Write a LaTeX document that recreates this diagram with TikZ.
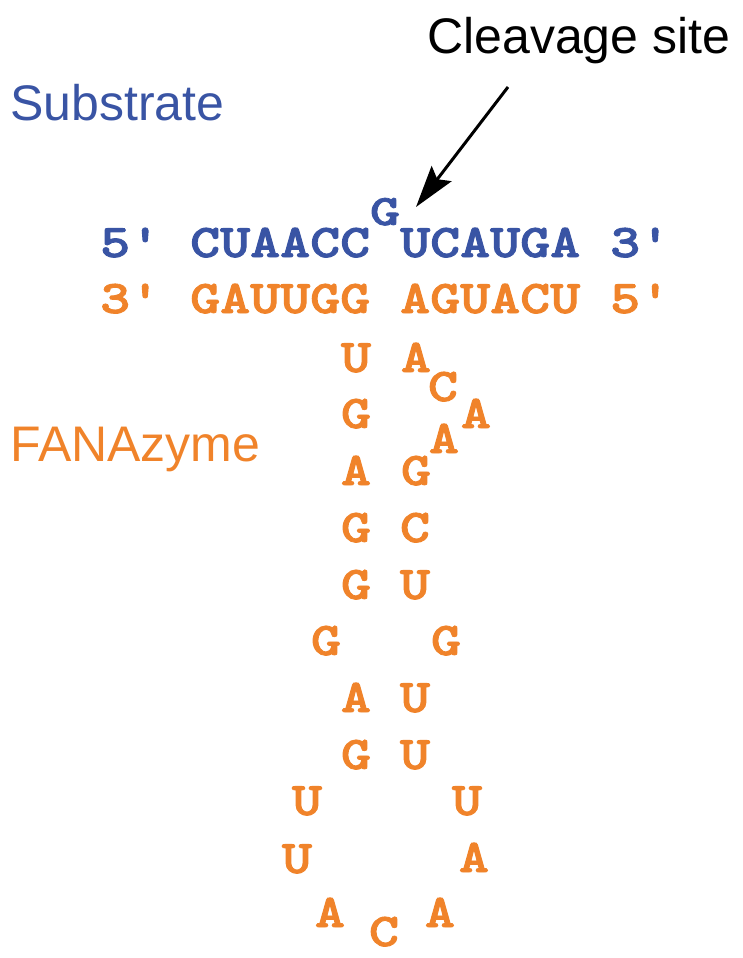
\documentclass[tikz,border=0pt]{standalone}
\usepackage{fontspec}
\usepackage{graphicx}
\usetikzlibrary{arrows.meta}
\newfontfamily\labelfont{Liberation Sans}
\newfontfamily\seqfont{lmmonolt10-bold.otf}[Ligatures=TeXOff, FakeBold=1.8]
\definecolor{sblue}{RGB}{57,84,164}
\definecolor{forange}{RGB}{240,131,42}
\newcommand{\nuc}[1]{\scalebox{1}[0.82]{#1}}
\begin{document}
\begin{tikzpicture}[x=1pt,y=-1pt,
  seqtxt/.style={inner sep=0pt, anchor=base west, font=\seqfont\fontsize{57.14}{60}\selectfont},
  ntd/.style={inner sep=0pt, anchor=base, text=forange, font=\seqfont\fontsize{57.14}{60}\selectfont},
  lab/.style={inner sep=0pt, anchor=base west, font=\labelfont\fontsize{50}{55}\selectfont},
  arrowline/.style={line width=3pt, -{Stealth[length=42pt,width=25pt,inset=7pt]}}]
\useasboundingbox (0,0) rectangle (742,958);
% labels
\node[lab, text=black] (cleave) at (427,53) {Cleavage site};
\node[lab, text=sblue] (substrate) at (10,120) {Substrate};
\node[lab, text=forange] (fanazyme) at (10,461) {FANAzyme};
% substrate row
\node[seqtxt, text=sblue] (sfive) at (100,257) {\nuc{5'}};
\node[seqtxt, text=sblue] (sleft) at (190,257) {\nuc{CUAACC}};
\node[inner sep=0pt, anchor=base, text=sblue, font=\seqfont\fontsize{57.14}{60}\selectfont] (sg) at (385,225) {\scalebox{1}[0.76]{G}};
\node[seqtxt, text=sblue] (sright) at (400,257) {\nuc{UCAUGA}};
\node[seqtxt, text=sblue] (sthree) at (610,257) {\nuc{3'}};
% enzyme row
\node[seqtxt, text=forange] (ethree) at (100,313) {\nuc{3'}};
\node[seqtxt, text=forange] (eleft) at (190,313) {\nuc{GAUUGG}};
\node[seqtxt, text=forange] (eright) at (400,313) {\nuc{AGUACU}};
\node[seqtxt, text=forange] (efive) at (610,313) {\nuc{5'}};
% catalytic core
\foreach \n/\x/\y/\l in {
  la/356/372/U, lb/356/428/G, lc/356/485/A, ld/356/542/G, le/356/599/G,
  lf/326/655/G, lg/356/712/A, lh/356/769/G, li/307/815/U, lj/297/873/U,
  lk/330/927/A, lm/384/946/C,
  ra/416/372/A, rb/443/401/C, rc/476/428/A, rd/444/453/A, re/416/485/G,
  rf/415/542/C, rg/415/599/U, rh/446/655/G, ri/415/712/U, rj/415/769/U,
  rk/467/815/U, rl/474/872/A, rm/440/927/A}
  \node[ntd] (\n) at (\x,\y) {\nuc{\l}};
% arrow
\coordinate (arrowfrom) at (508,87);
\coordinate (arrowto) at (416,207);
\draw[arrowline] (arrowfrom) -- (arrowto);
\end{tikzpicture}
\end{document}
